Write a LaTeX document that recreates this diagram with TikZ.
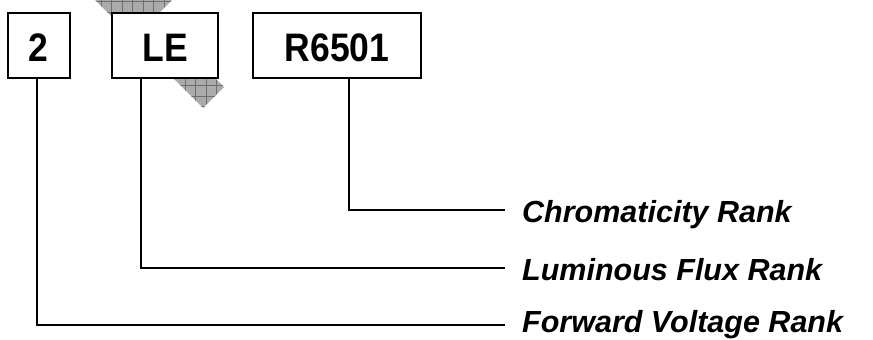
\documentclass[tikz,border=0pt]{standalone}
\usepackage{fontspec}
\setmainfont{Liberation Sans}
\definecolor{hatchgray}{HTML}{ABABAB}
\definecolor{hatchline}{HTML}{6E6E6E}
\tikzset{
  rankbox/.style={draw=black, line width=2pt, fill=white, inner sep=0pt, minimum height=65pt,
    text height=33pt, text depth=0pt,
    font=\fontsize{35.5}{40}\selectfont\bfseries},
  ranklabel/.style={anchor=base west, inner sep=0pt, font=\fontsize{30.5}{34}\selectfont\bfseries\itshape},
  conn/.style={draw=black, line width=1.6pt}
}
\begin{document}
\begin{tikzpicture}[x=1pt,y=-1pt]
\useasboundingbox (0,0) rectangle (873,340);
% hatched diagonal band
\begin{scope}
  \clip (95,0) -- (172,0) -- (154.5,17.5) -- (224,87) -- (203,108) -- cycle;
  \fill[hatchgray] (80,-5) rectangle (235,115);
  \foreach \i in {-2,...,12} \draw[hatchline, line width=0.8pt] (111.5+\i*10.5,-5) -- (111.5+\i*10.5,115);
  \foreach \i in {0,...,11} \draw[hatchline, line width=0.8pt] (80,1.7+\i*10.5) -- (235,1.7+\i*10.5);
\end{scope}
% boxes
\node[rankbox, minimum width=62pt] (b2) at (38.5,45) {\scalebox{1}[1.12]{2}};
\node[rankbox, minimum width=106pt] (bLE) at (165,45) {\scalebox{1}[1.12]{LE}};
\node[rankbox, minimum width=168pt] (bR) at (337,45) {\scalebox{1}[1.12]{R6501}};
% connector ends
\coordinate (e1) at (505,210);
\coordinate (e2) at (505,268);
\coordinate (e3) at (505,325);
% labels
\node[ranklabel] (l1) at (522,222) {Chromaticity Rank};
\node[ranklabel] (l2) at (522,280) {Luminous Flux Rank};
\node[ranklabel] (l3) at (522,332) {Forward Voltage Rank};
% connectors
\draw[conn] ([xshift=-1.5pt]b2.south) |- (e3);
\draw[conn] ([xshift=-24pt]bLE.south) |- (e2);
\draw[conn] ([xshift=12pt]bR.south) |- (e1);
\end{tikzpicture}
\end{document}
